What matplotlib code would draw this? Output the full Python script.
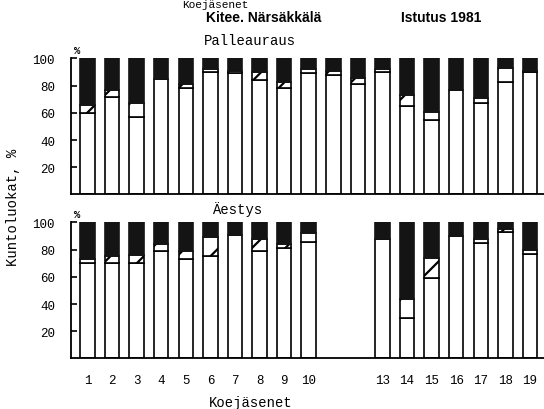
import matplotlib
matplotlib.use("Agg")
import matplotlib.pyplot as plt
import numpy as np

plt.rcParams['hatch.linewidth'] = 1.6
MONO = 'Liberation Mono'
SANS = 'Liberation Sans'

# koejäsenet (treatment members)
top_members = list(range(1, 20))
bottom_members = [1, 2, 3, 4, 5, 6, 7, 8, 9, 10, 13, 14, 15, 16, 17, 18, 19]

# Palleauraus: kuntoluokat %, white = good, hatched = middle, black = poor
top_good = [60, 72, 57, 85, 78, 90, 89, 84, 78, 89, 88, 81, 90, 65, 55, 77, 67, 83, 90]
top_mid = [6, 5, 10, 0, 3, 2, 2, 6, 5, 3, 3, 5, 2, 8, 6, 0, 4, 10, 1]

# Äestys
bot_good = [70, 70, 70, 79, 73, 75, 91, 79, 81, 86, 88, 30, 59, 90, 85, 93, 77]
bot_mid = [3, 5, 6, 5, 6, 14, 0, 9, 3, 6, 0, 14, 15, 0, 3, 2, 3]

yticks = [20, 40, 60, 80, 100]

fig = plt.figure(figsize=(5.44, 4.10), dpi=100)
ax1 = fig.add_axes([0.1305, 0.5232, 0.8695, 0.3317])
ax2 = fig.add_axes([0.1305, 0.1232, 0.8695, 0.3317])

W = 0.59
BLACK = '#141414'


def draw_panel(ax, members, good, mid):
    x = np.array(members)
    good = np.array(good)
    mid = np.array(mid)
    bad = 100 - good - mid
    ax.bar(x, good, W, color='white', edgecolor='black', linewidth=1.2)
    ax.bar(x, mid, W, bottom=good, color='white', edgecolor='black',
           linewidth=1.2, hatch='/')
    ax.bar(x, bad, W, bottom=good + mid, color=BLACK, edgecolor=BLACK,
           linewidth=1.2)
    ax.set_xlim(0.33, 19.57)
    ax.set_ylim(0, 100)
    ax.spines['top'].set_visible(False)
    ax.spines['right'].set_visible(False)
    ax.spines['left'].set_linewidth(1.3)
    ax.spines['bottom'].set_linewidth(1.3)
    ax.set_yticks(yticks)
    ax.set_yticklabels([str(t) for t in yticks], fontfamily=MONO, fontsize=9)
    ax.tick_params(axis='y', direction='in', length=4, width=1.2, pad=11.5)
    ax.text(0.0127, 1.06, '%', transform=ax.transAxes, fontsize=7.5,
            fontfamily=MONO, fontweight='bold', ha='center', va='center')


draw_panel(ax1, top_members, top_good, top_mid)
draw_panel(ax2, bottom_members, bot_good, bot_mid)

ax1.set_xticks([])
ax2.set_xticks(bottom_members)
ax2.set_xticklabels([str(m) for m in bottom_members], fontfamily=MONO,
                    fontsize=9)
ax2.tick_params(axis='x', length=0, pad=11)

fig.text(215 / 544, 1.0, 'Koejäsenet', fontfamily=MONO, fontsize=8,
         ha='center', va='top')
fig.text(264 / 544, 1 - 18 / 410, 'Kitee. Närsäkkälä', fontfamily=SANS,
         fontweight='bold', fontsize=10, ha='center', va='center')
fig.text(441 / 544, 1 - 18 / 410, 'Istutus 1981', fontfamily=SANS,
         fontweight='bold', fontsize=10, ha='center', va='center')
fig.text(250 / 544, 1 - 41 / 410, 'Palleauraus', fontfamily=MONO, fontsize=10,
         ha='center', va='center')
fig.text(237 / 544, 1 - 210 / 410, 'Äestys', fontfamily=MONO, fontsize=10,
         ha='center', va='center')
fig.text(251 / 544, 1 - 403 / 410, 'Koejäsenet', fontfamily=MONO, fontsize=10,
         ha='center', va='center')
fig.text(13 / 544, 1 - 207 / 410, 'Kuntoluokat, %', fontfamily=MONO,
         fontsize=10, rotation=90, ha='center', va='center')

fig.savefig('out.png', dpi=100)
